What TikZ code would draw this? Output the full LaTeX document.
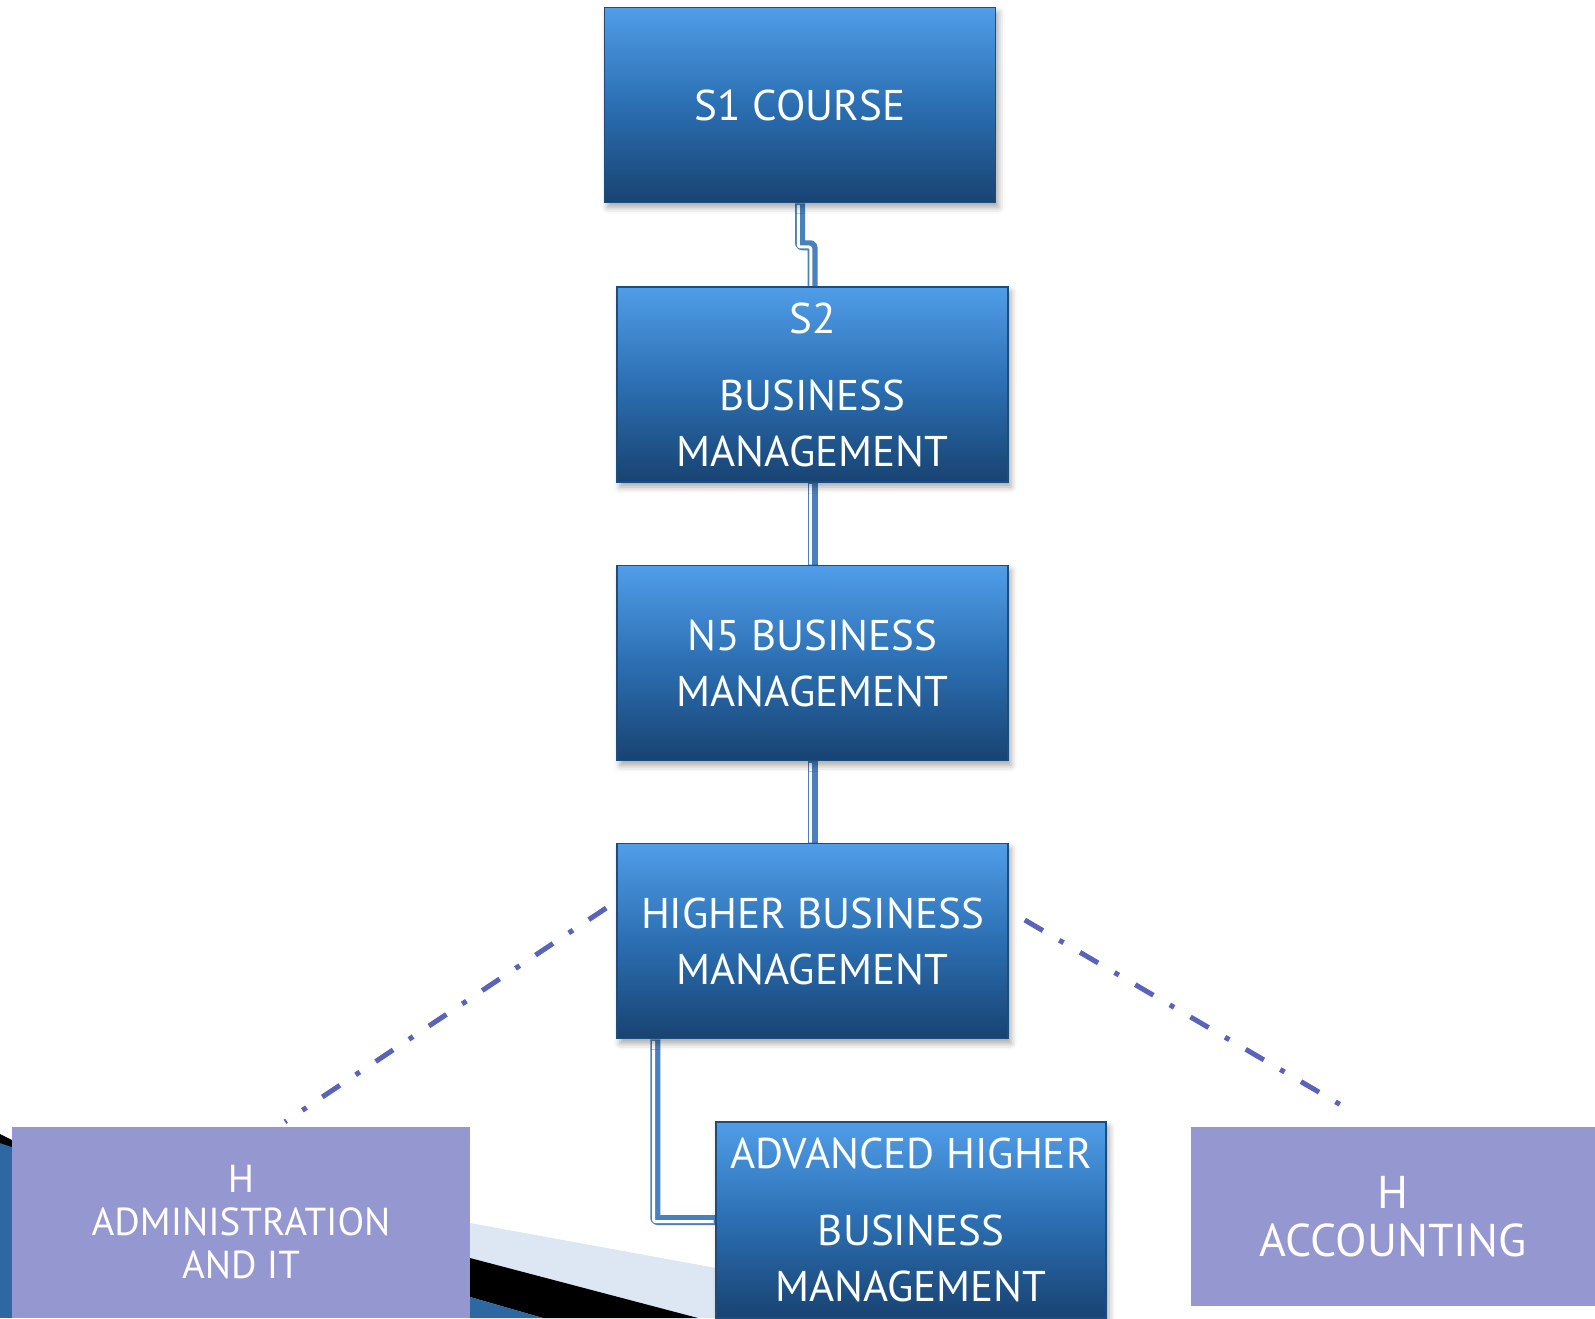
\documentclass[tikz,border=0pt]{standalone}
\usepackage{fontspec}
\setmainfont{PT Sans}
\usetikzlibrary{calc,shadows.blur,backgrounds}

\definecolor{boxtop}{RGB}{80,157,232}
\definecolor{boxmid}{RGB}{43,111,178}
\definecolor{boxbot}{RGB}{24,67,114}
\definecolor{boxedge}{RGB}{30,76,124}
\definecolor{linkblue}{RGB}{74,128,188}
\definecolor{optfill}{RGB}{148,151,208}
\definecolor{routeblue}{RGB}{89,99,186}
\definecolor{bandblue}{RGB}{220,231,243}
\definecolor{bgblue}{RGB}{46,104,163}

\tikzset{
  stage/.style={rectangle, draw=boxedge, line width=1.5pt, top color=boxtop, bottom color=boxbot, middle color=boxmid,
    text=white, align=center, inner sep=0pt, minimum width=391pt, minimum height=195pt,
    font=\fontsize{43}{56}\selectfont,
    blur shadow={shadow xshift=3pt, shadow yshift=-5pt, shadow blur radius=6pt, shadow opacity=35}},
  option/.style={rectangle, fill=optfill, text=white, align=center, inner sep=0pt},
  link/.style={draw=linkblue, line width=10pt, rounded corners=2pt, line join=round,
    postaction={draw=white, line width=3pt, transform canvas={shift={(-1.7pt,-1.7pt)}}}},
  route/.style={draw=routeblue, line width=5pt, dash pattern=on 21pt off 19pt on 5pt off 19pt}
}

\begin{document}
\begin{tikzpicture}[x=1pt, y=-1pt]
  \useasboundingbox (0,0) rectangle (1595,1318);

  % Course boxes
  \node[stage] (s1) at (800,105) {S1 COURSE};
  \node[stage] (s2) at (812.5,384.5) {S2\\[21pt]BUSINESS\\MANAGEMENT};
  \node[stage] (n5) at (812.5,663) {N5 BUSINESS\\MANAGEMENT};
  \node[stage] (hi) at (812.5,941) {HIGHER BUSINESS\\MANAGEMENT};
  \node[stage, minimum width=390pt, minimum height=196pt] (ah) at (911,1220) {ADVANCED HIGHER\\[21pt]BUSINESS\\MANAGEMENT};

  % Other Highers
  \node[option, minimum width=458pt, minimum height=191pt, font=\fontsize{39}{43}\selectfont] (admin) at (241,1222.5) {H\\ADMINISTRATION\\AND IT};
  \node[option, minimum width=404pt, minimum height=179pt, font=\fontsize{46}{48}\selectfont] (acc) at (1393,1216.5) {H\\ACCOUNTING};

  % Dash-dot routes
  \draw[route] ([xshift=-10pt,yshift=33pt]hi.west) -- ([xshift=44pt,yshift=5pt]admin.north);
  \draw[route] ([xshift=16pt,yshift=21pt]hi.east) -- ([xshift=-37pt,yshift=13pt]acc.north);

  \begin{scope}[on background layer]
    % Slide background pieces
    \fill[bandblue] (470,1223) -- (716,1268) -- (716,1318) -- (470,1318) -- cycle;
    \fill[black] (470,1258) -- (698,1318) -- (543,1318) -- (470,1297) -- cycle;
    \fill[bgblue] (470,1297) -- (543,1318) -- (470,1318) -- cycle;
    \fill[bgblue] (0,1143) rectangle (12,1318);
    \fill[black] (0,1134) -- (12,1140) -- (12,1147) -- (0,1143) -- cycle;

    % Connectors
    \draw[link] (s1.south) -- ++(0,42) -| (s2.north);
    \draw[link] (s2) -- (n5);
    \draw[link] (n5) -- (hi);
    \draw[link] ([xshift=39pt]hi.south west) |- (ah.west);
  \end{scope}
\end{tikzpicture}
\end{document}
